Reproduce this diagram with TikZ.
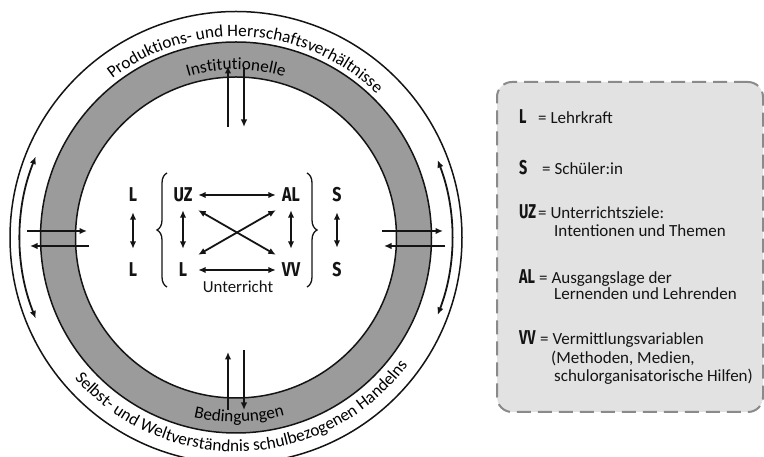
\documentclass[tikz,border=0pt]{standalone}
\usepackage{fontspec}
\usepackage{graphicx}
\setmainfont{Carlito}
\newfontfamily\labelfont{Fira Sans}
\usetikzlibrary{arrows.meta,decorations.text,decorations.pathreplacing}

\definecolor{ringgray}{RGB}{155,155,155}
\definecolor{boxfill}{RGB}{226,226,226}
\definecolor{boxline}{RGB}{138,138,138}
\definecolor{ink}{RGB}{20,20,20}

% condensed bold abbreviations
\newcommand\abbr[1]{\scalebox{0.8}[1]{\labelfont\bfseries #1}}
\newcommand\keyabbr[1]{\scalebox{0.72}[1]{\labelfont\bfseries #1}}
\newcommand\ringtext{\fontsize{17.2}{17.2}\selectfont}

\begin{document}
\begin{tikzpicture}[x=1pt,y=1pt,
  ring/.style={line width=1.5pt, draw=ink},
  tip/.tip={Latex[length=7.5pt,width=6.5pt]},
  arr/.style={line width=1.8pt, draw=ink, -tip},
  darr/.style={line width=1.8pt, draw=ink, tip-tip},
  code/.style={minimum width=30pt, minimum height=30pt, inner sep=0pt, text=ink,
    font=\fontsize{20}{20}\selectfont},
  brk/.style={line width=1.3pt, draw=ink, decorate, decoration={brace, amplitude=10pt}},
  legtext/.style={anchor=base west, inner sep=0pt, text=ink, font=\fontsize{17}{17}\selectfont},
  legkey/.style={anchor=base west, inner sep=0pt, text=ink, font=\fontsize{20}{20}\selectfont},
  legendbox/.style={draw=boxline, fill=boxfill, line width=2pt, dash pattern=on 14pt off 7pt,
    rounded corners=15pt, minimum width=266pt, minimum height=330pt},
]
\useasboundingbox (0,0) rectangle (764,457);
\fill[white] (0,0) rectangle (764,457);

\coordinate (c) at (236,219.5);

% grey ring and outer circle
\fill[ringgray, even odd rule] (c) circle[radius=195.5] (c) circle[radius=160.5];
\draw[ring] (c) circle[radius=195.5];
\draw[ring] (c) circle[radius=160.5];
\draw[ring] (c) circle[radius=226];

% texts along the rings
\path[decorate, decoration={text along path, text align=center,
  text={|\ringtext|Produktions- und Herrschaftsverhältnisse}}]
  ([shift={(156.75:201)}]c) arc[start angle=156.75, end angle=16.75, radius=201];
\path[decorate, decoration={text along path, text align=center,
  text={|\ringtext|Selbst- und Weltverständnis schulbezogenen Handelns}}]
  ([shift={(202.25:214)}]c) arc[start angle=202.25, end angle=342.25, radius=214];
\path[decorate, decoration={text along path, text align=center,
  text={|\ringtext|Institutionelle}}]
  ([shift={(130:168)}]c) arc[start angle=130, end angle=50, radius=168];
\path[decorate, decoration={text along path, text align=center,
  text={|\ringtext|Bedingungen}}]
  ([shift={(231:184.5)}]c) arc[start angle=231, end angle=311, radius=184.5];

% arrows along the outer ring
\draw[darr] ([shift={(158:216)}]c) arc[start angle=158, end angle=202, radius=216];
\draw[darr] ([shift={(-21:216)}]c) arc[start angle=-21, end angle=21, radius=216];

% arrows across the ring
\coordinate (wa1) at (27,226);  \coordinate (wa2) at (87,226);
\coordinate (wb1) at (89,211);  \coordinate (wb2) at (30,211);
\coordinate (ea1) at (382,226); \coordinate (ea2) at (443,226);
\coordinate (eb1) at (445,211); \coordinate (eb2) at (384,211);
\coordinate (na1) at (228,330); \coordinate (na2) at (228,391);
\coordinate (nb1) at (244,390); \coordinate (nb2) at (244,330);
\coordinate (sa1) at (228,47);  \coordinate (sa2) at (228,105);
\coordinate (sb1) at (244,107); \coordinate (sb2) at (244,47);
\draw[arr] (wa1) -- (wa2);
\draw[arr] (wb1) -- (wb2);
\draw[arr] (ea1) -- (ea2);
\draw[arr] (eb1) -- (eb2);
\draw[arr] (na1) -- (na2);
\draw[arr] (nb1) -- (nb2);
\draw[arr] (sa1) -- (sa2);
\draw[arr] (sb1) -- (sb2);

% lesson core
\node[code] (Lo1) at (133,262) {\abbr{L}};
\node[code] (Lo2) at (133,187) {\abbr{L}};
\node[code] (UZ)  at (183,262) {\abbr{UZ}};
\node[code] (AL)  at (291,262) {\abbr{AL}};
\node[code] (Li)  at (183,187) {\abbr{L}};
\node[code] (VV)  at (291,187) {\abbr{VV}};
\node[code] (S1)  at (337,262) {\abbr{S}};
\node[code] (S2)  at (337,187) {\abbr{S}};
\node[anchor=base, inner sep=0pt, text=ink, font=\fontsize{16.8}{16.8}\selectfont]
  (unt) at (238,164.3) {Unterricht};

\draw[darr, shorten <=2pt, shorten >=6pt] (Lo1) -- (Lo2);
\draw[darr, shorten <=2pt, shorten >=7pt] (S1) -- (S2);
\draw[darr] (UZ) -- (AL);
\draw[darr] (Li) -- (VV);
\draw[darr, shorten >=6pt] (UZ) -- (Li);
\draw[darr, shorten >=6pt] (AL) -- (VV);
\draw[darr] (UZ.south east) -- (VV.north west);
\draw[darr] (Li.north east) -- (AL.south west);

\draw[brk] (167,170) -- (167,284);
\draw[brk] (307,284) -- (307,170);

% legend
\node[legendbox] (legend) at (630,210) {};
\node[legkey]  (kL)  at (519,333.7) {\keyabbr{L}};
\node[legtext] (tL)  at (538,333.7) {= Lehrkraft};
\node[legkey]  (kS)  at (519,282)   {\keyabbr{S}};
\node[legtext] (tS)  at (542,282)   {= Schüler:in};
\node[legkey]  (kUZ) at (519,238.7) {\keyabbr{UZ}};
\node[legtext] (tUZ) at (538,238.7) {= Unterrichtsziele:};
\node[legtext] (tUZb) at (554,220.3) {Intentionen und Themen};
\node[legkey]  (kAL) at (519,173.7) {\keyabbr{AL}};
\node[legtext] (tAL) at (539,173.7) {= Ausgangslage der};
\node[legtext] (tALb) at (554,157) {Lernenden und Lehrenden};
\node[legkey]  (kVV) at (519,112)   {\keyabbr{VV}};
\node[legtext] (tVV) at (540,112)   {= Vermittlungsvariablen};
\node[legtext] (tVVb) at (551,93.7) {(Methoden, Medien,};
\node[legtext] (tVVc) at (554,75.3) {schulorganisatorische Hilfen)};
\end{tikzpicture}
\end{document}
